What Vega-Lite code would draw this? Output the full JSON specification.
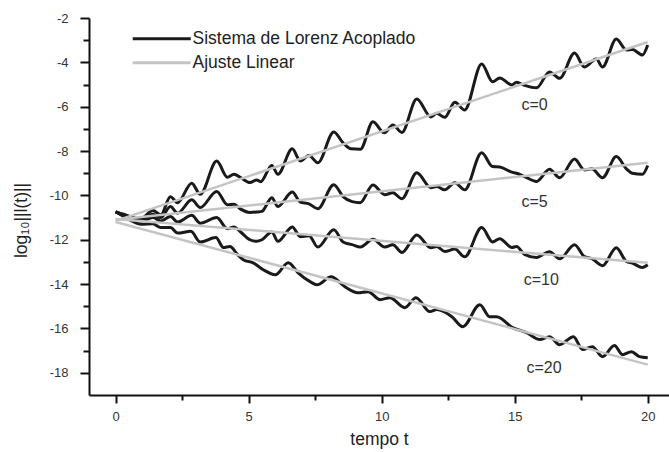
{
  "$schema": "https://vega.github.io/schema/vega-lite/v6.json",
  "autosize": {"type": "none"},
  "padding": {"left": 89, "top": 18, "right": 0, "bottom": 57},
  "width": 580,
  "height": 377,
  "background": "white",
  "config": {
    "view": {"stroke": null},
    "font": "Liberation Sans",
    "axis": {
      "grid": false,
      "domainColor": "#111",
      "domainWidth": 2,
      "tickColor": "#111",
      "tickWidth": 2,
      "labelFont": "Liberation Sans",
      "labelFontSize": 13,
      "labelColor": "#333",
      "titleFont": "Liberation Sans",
      "titleFontSize": 17.5,
      "titleFontWeight": "normal",
      "titleColor": "#222"
    }
  },
  "datasets": {
    "curves": [
      {"c": "0", "t": 0, "v": -10.74}, {"c": "0", "t": 0.3, "v": -10.85}, {"c": "0", "t": 0.6, "v": -10.98}, {"c": "0", "t": 0.95, "v": -11.05}, {"c": "0", "t": 1.4, "v": -10.68}, {"c": "0", "t": 1.7, "v": -10.87}, {"c": "0", "t": 2.06, "v": -10.06}, {"c": "0", "t": 2.33, "v": -10.33}, {"c": "0", "t": 2.86, "v": -9.45}, {"c": "0", "t": 3.18, "v": -9.95}, {"c": "0", "t": 3.8, "v": -8.45}, {"c": "0", "t": 4.2, "v": -9.18}, {"c": "0", "t": 4.45, "v": -9.05}, {"c": "0", "t": 4.7, "v": -9.2}, {"c": "0", "t": 5.05, "v": -9.42}, {"c": "0", "t": 5.3, "v": -9.3}, {"c": "0", "t": 5.45, "v": -9.38}, {"c": "0", "t": 5.87, "v": -8.65}, {"c": "0", "t": 6.1, "v": -9.05}, {"c": "0", "t": 6.64, "v": -7.9}, {"c": "0", "t": 6.94, "v": -8.45}, {"c": "0", "t": 7.27, "v": -8.2}, {"c": "0", "t": 7.6, "v": -8.53}, {"c": "0", "t": 8.2, "v": -7.14}, {"c": "0", "t": 8.55, "v": -7.63}, {"c": "0", "t": 8.85, "v": -7.9}, {"c": "0", "t": 9.2, "v": -7.92}, {"c": "0", "t": 9.67, "v": -6.68}, {"c": "0", "t": 10.1, "v": -7.18}, {"c": "0", "t": 10.42, "v": -6.82}, {"c": "0", "t": 10.76, "v": -7.16}, {"c": "0", "t": 11.32, "v": -5.65}, {"c": "0", "t": 11.85, "v": -6.46}, {"c": "0", "t": 12.07, "v": -6.3}, {"c": "0", "t": 12.37, "v": -6.48}, {"c": "0", "t": 12.75, "v": -5.8}, {"c": "0", "t": 13.12, "v": -6.15}, {"c": "0", "t": 13.76, "v": -4.07}, {"c": "0", "t": 14.17, "v": -4.88}, {"c": "0", "t": 14.44, "v": -4.7}, {"c": "0", "t": 14.89, "v": -5.02}, {"c": "0", "t": 15.07, "v": -4.9}, {"c": "0", "t": 15.37, "v": -5.04}, {"c": "0", "t": 15.82, "v": -5.15}, {"c": "0", "t": 16.31, "v": -4.43}, {"c": "0", "t": 16.69, "v": -4.72}, {"c": "0", "t": 17.25, "v": -3.58}, {"c": "0", "t": 17.62, "v": -4.21}, {"c": "0", "t": 18.07, "v": -3.85}, {"c": "0", "t": 18.3, "v": -4.21}, {"c": "0", "t": 18.82, "v": -2.95}, {"c": "0", "t": 19.2, "v": -3.44}, {"c": "0", "t": 19.42, "v": -3.42}, {"c": "0", "t": 19.8, "v": -3.67}, {"c": "0", "t": 20, "v": -3.22},
      {"c": "5", "t": 0, "v": -10.74}, {"c": "5", "t": 0.3, "v": -10.88}, {"c": "5", "t": 0.6, "v": -11.0}, {"c": "5", "t": 0.95, "v": -11.1}, {"c": "5", "t": 1.4, "v": -10.85}, {"c": "5", "t": 1.7, "v": -11.0}, {"c": "5", "t": 2.06, "v": -10.5}, {"c": "5", "t": 2.33, "v": -10.8}, {"c": "5", "t": 2.86, "v": -10.2}, {"c": "5", "t": 3.18, "v": -10.55}, {"c": "5", "t": 3.8, "v": -9.82}, {"c": "5", "t": 4.2, "v": -10.42}, {"c": "5", "t": 4.45, "v": -10.4}, {"c": "5", "t": 4.7, "v": -10.62}, {"c": "5", "t": 5.05, "v": -10.77}, {"c": "5", "t": 5.3, "v": -10.75}, {"c": "5", "t": 5.5, "v": -10.72}, {"c": "5", "t": 5.87, "v": -10.1}, {"c": "5", "t": 6.1, "v": -10.5}, {"c": "5", "t": 6.64, "v": -9.85}, {"c": "5", "t": 6.94, "v": -10.3}, {"c": "5", "t": 7.27, "v": -10.38}, {"c": "5", "t": 7.6, "v": -10.6}, {"c": "5", "t": 8.2, "v": -9.52}, {"c": "5", "t": 8.55, "v": -10.05}, {"c": "5", "t": 8.89, "v": -10.28}, {"c": "5", "t": 9.19, "v": -10.33}, {"c": "5", "t": 9.67, "v": -9.53}, {"c": "5", "t": 10.12, "v": -9.97}, {"c": "5", "t": 10.42, "v": -9.88}, {"c": "5", "t": 10.76, "v": -10.15}, {"c": "5", "t": 11.32, "v": -8.98}, {"c": "5", "t": 11.85, "v": -9.65}, {"c": "5", "t": 12.07, "v": -9.6}, {"c": "5", "t": 12.37, "v": -9.75}, {"c": "5", "t": 12.75, "v": -9.43}, {"c": "5", "t": 13.12, "v": -9.75}, {"c": "5", "t": 13.76, "v": -8.08}, {"c": "5", "t": 14.17, "v": -8.7}, {"c": "5", "t": 14.44, "v": -8.72}, {"c": "5", "t": 14.89, "v": -8.95}, {"c": "5", "t": 15.07, "v": -9.0}, {"c": "5", "t": 15.37, "v": -9.15}, {"c": "5", "t": 15.82, "v": -9.37}, {"c": "5", "t": 16.31, "v": -8.82}, {"c": "5", "t": 16.69, "v": -9.2}, {"c": "5", "t": 17.25, "v": -8.36}, {"c": "5", "t": 17.62, "v": -8.85}, {"c": "5", "t": 17.9, "v": -8.8}, {"c": "5", "t": 18.3, "v": -9.2}, {"c": "5", "t": 18.82, "v": -8.25}, {"c": "5", "t": 19.2, "v": -8.8}, {"c": "5", "t": 19.42, "v": -9.0}, {"c": "5", "t": 19.8, "v": -9.05}, {"c": "5", "t": 20, "v": -8.65},
      {"c": "10", "t": 0, "v": -10.74}, {"c": "10", "t": 0.3, "v": -10.9}, {"c": "10", "t": 0.6, "v": -11.05}, {"c": "10", "t": 0.95, "v": -11.15}, {"c": "10", "t": 1.4, "v": -11.0}, {"c": "10", "t": 1.7, "v": -11.15}, {"c": "10", "t": 2.06, "v": -10.95}, {"c": "10", "t": 2.33, "v": -11.2}, {"c": "10", "t": 2.86, "v": -10.9}, {"c": "10", "t": 3.18, "v": -11.25}, {"c": "10", "t": 3.8, "v": -11.0}, {"c": "10", "t": 4.2, "v": -11.5}, {"c": "10", "t": 4.45, "v": -11.42}, {"c": "10", "t": 4.7, "v": -11.65}, {"c": "10", "t": 5.05, "v": -12.0}, {"c": "10", "t": 5.3, "v": -12.07}, {"c": "10", "t": 5.5, "v": -12.0}, {"c": "10", "t": 5.87, "v": -11.65}, {"c": "10", "t": 6.1, "v": -12.07}, {"c": "10", "t": 6.64, "v": -11.42}, {"c": "10", "t": 6.94, "v": -11.86}, {"c": "10", "t": 7.27, "v": -11.82}, {"c": "10", "t": 7.6, "v": -12.33}, {"c": "10", "t": 8.2, "v": -11.55}, {"c": "10", "t": 8.55, "v": -12.1}, {"c": "10", "t": 8.89, "v": -12.22}, {"c": "10", "t": 9.2, "v": -12.33}, {"c": "10", "t": 9.67, "v": -11.98}, {"c": "10", "t": 10.12, "v": -12.33}, {"c": "10", "t": 10.42, "v": -12.22}, {"c": "10", "t": 10.76, "v": -12.57}, {"c": "10", "t": 11.32, "v": -11.78}, {"c": "10", "t": 11.85, "v": -12.36}, {"c": "10", "t": 12.07, "v": -12.3}, {"c": "10", "t": 12.37, "v": -12.53}, {"c": "10", "t": 12.75, "v": -12.42}, {"c": "10", "t": 13.12, "v": -12.77}, {"c": "10", "t": 13.76, "v": -11.45}, {"c": "10", "t": 14.17, "v": -12.1}, {"c": "10", "t": 14.44, "v": -11.95}, {"c": "10", "t": 14.89, "v": -12.35}, {"c": "10", "t": 15.07, "v": -12.3}, {"c": "10", "t": 15.37, "v": -12.66}, {"c": "10", "t": 15.82, "v": -12.8}, {"c": "10", "t": 16.31, "v": -12.54}, {"c": "10", "t": 16.69, "v": -12.86}, {"c": "10", "t": 17.25, "v": -12.22}, {"c": "10", "t": 17.62, "v": -12.76}, {"c": "10", "t": 17.9, "v": -12.85}, {"c": "10", "t": 18.3, "v": -13.17}, {"c": "10", "t": 18.82, "v": -12.36}, {"c": "10", "t": 19.2, "v": -12.98}, {"c": "10", "t": 19.42, "v": -13.05}, {"c": "10", "t": 19.8, "v": -13.25}, {"c": "10", "t": 20, "v": -13.13},
      {"c": "20", "t": 0, "v": -10.74}, {"c": "20", "t": 0.3, "v": -10.95}, {"c": "20", "t": 0.6, "v": -11.15}, {"c": "20", "t": 0.95, "v": -11.3}, {"c": "20", "t": 1.4, "v": -11.28}, {"c": "20", "t": 1.7, "v": -11.45}, {"c": "20", "t": 2.06, "v": -11.45}, {"c": "20", "t": 2.33, "v": -11.7}, {"c": "20", "t": 2.83, "v": -11.62}, {"c": "20", "t": 3.18, "v": -12.1}, {"c": "20", "t": 3.77, "v": -11.9}, {"c": "20", "t": 4.05, "v": -12.35}, {"c": "20", "t": 4.3, "v": -12.3}, {"c": "20", "t": 4.57, "v": -12.65}, {"c": "20", "t": 4.8, "v": -12.9}, {"c": "20", "t": 5.17, "v": -13.04}, {"c": "20", "t": 5.55, "v": -13.35}, {"c": "20", "t": 6.0, "v": -13.58}, {"c": "20", "t": 6.49, "v": -13.04}, {"c": "20", "t": 6.86, "v": -13.49}, {"c": "20", "t": 7.31, "v": -13.89}, {"c": "20", "t": 7.57, "v": -14.03}, {"c": "20", "t": 8.1, "v": -13.67}, {"c": "20", "t": 8.62, "v": -14.12}, {"c": "20", "t": 9.11, "v": -14.39}, {"c": "20", "t": 9.49, "v": -14.34}, {"c": "20", "t": 9.94, "v": -14.7}, {"c": "20", "t": 10.31, "v": -14.61}, {"c": "20", "t": 10.87, "v": -15.06}, {"c": "20", "t": 11.29, "v": -14.61}, {"c": "20", "t": 11.81, "v": -15.24}, {"c": "20", "t": 12.07, "v": -15.15}, {"c": "20", "t": 12.64, "v": -15.47}, {"c": "20", "t": 13.05, "v": -15.92}, {"c": "20", "t": 13.69, "v": -14.93}, {"c": "20", "t": 14.06, "v": -15.47}, {"c": "20", "t": 14.32, "v": -15.47}, {"c": "20", "t": 14.92, "v": -15.96}, {"c": "20", "t": 15.45, "v": -16.19}, {"c": "20", "t": 15.94, "v": -16.5}, {"c": "20", "t": 16.31, "v": -16.37}, {"c": "20", "t": 16.69, "v": -16.73}, {"c": "20", "t": 17.21, "v": -16.37}, {"c": "20", "t": 17.55, "v": -16.95}, {"c": "20", "t": 17.92, "v": -16.82}, {"c": "20", "t": 18.3, "v": -17.27}, {"c": "20", "t": 18.75, "v": -16.77}, {"c": "20", "t": 19.05, "v": -17.18}, {"c": "20", "t": 19.39, "v": -17.05}, {"c": "20", "t": 19.69, "v": -17.27}, {"c": "20", "t": 20, "v": -17.32}
    ],
    "fits": [
      {"c": "0", "t": 0, "v": -11.15}, {"c": "0", "t": 20, "v": -3.08},
      {"c": "5", "t": 0, "v": -11.1}, {"c": "5", "t": 20, "v": -8.53},
      {"c": "10", "t": 0, "v": -11.06}, {"c": "10", "t": 20, "v": -13.04},
      {"c": "20", "t": 0, "v": -11.2}, {"c": "20", "t": 20, "v": -17.63}
    ],
    "labels": [
      {"label": "c=0", "t": 15.75, "v": -5.92},
      {"label": "c=5", "t": 15.75, "v": -10.29},
      {"label": "c=10", "t": 16.0, "v": -13.8},
      {"label": "c=20", "t": 16.1, "v": -17.77}
    ]
  },
  "encoding": {
    "x": {
      "field": "t", "type": "quantitative",
      "scale": {"domain": [-1, 20.8], "nice": false, "zero": false},
      "axis": {
        "title": "tempo t",
        "values": [0, 2.5, 5, 7.5, 10, 12.5, 15, 17.5, 20],
        "labelExpr": "datum.value % 5 === 0 ? '' + datum.value : ''",
        "tickSize": {"condition": {"test": "datum.value % 5 === 0", "value": 8}, "value": 5},
        "labelPadding": 7,
        "titleY": 49,
        "titleBaseline": "alphabetic"
      }
    },
    "y": {
      "field": "v", "type": "quantitative",
      "scale": {"domain": [-19, -2], "nice": false, "zero": false},
      "axis": {
        "title": "log₁₀||l(t)||",
        "values": [-18, -17, -16, -15, -14, -13, -12, -11, -10, -9, -8, -7, -6, -5, -4, -3, -2],
        "labelExpr": "datum.value % 2 === 0 ? '' + datum.value : ''",
        "tickSize": {"condition": {"test": "datum.value % 2 === 0", "value": 9}, "value": 6},
        "labelPadding": 12,
        "titleAngle": 270,
        "titleX": -63,
        "titleY": 202,
        "titleAlign": "center",
        "titleBaseline": "alphabetic"
      }
    }
  },
  "layer": [
    {
      "data": {"name": "curves"},
      "transform": [{"calculate": "'Sistema de Lorenz Acoplado'", "as": "serie"}],
      "mark": {"type": "line", "strokeWidth": 3, "interpolate": "monotone"},
      "encoding": {
        "detail": {"field": "c"},
        "stroke": {
          "field": "serie", "type": "nominal",
          "scale": {"domain": ["Sistema de Lorenz Acoplado", "Ajuste Linear"], "range": ["#1a1a1a", "#c4c4c4"]},
          "legend": {
            "title": null,
            "orient": "none",
            "legendX": 85,
            "legendY": 12,
            "symbolType": "M-50,0H8",
            "symbolSize": 4,
            "symbolStrokeWidth": 3,
            "labelFont": "Liberation Sans",
            "labelFontSize": 17.5,
            "labelColor": "#222",
            "labelOffset": 1,
            "labelLimit": 500,
            "rowPadding": 5
          }
        }
      }
    },
    {
      "data": {"name": "fits"},
      "transform": [{"calculate": "'Ajuste Linear'", "as": "serie"}],
      "mark": {"type": "line", "strokeWidth": 2.5},
      "encoding": {
        "detail": {"field": "c"},
        "stroke": {"field": "serie", "type": "nominal"}
      }
    },
    {
      "data": {"name": "labels"},
      "mark": {"type": "text", "font": "Liberation Sans", "fontSize": 16, "color": "#333", "align": "center", "baseline": "middle"},
      "encoding": {"text": {"field": "label"}}
    }
  ]
}
